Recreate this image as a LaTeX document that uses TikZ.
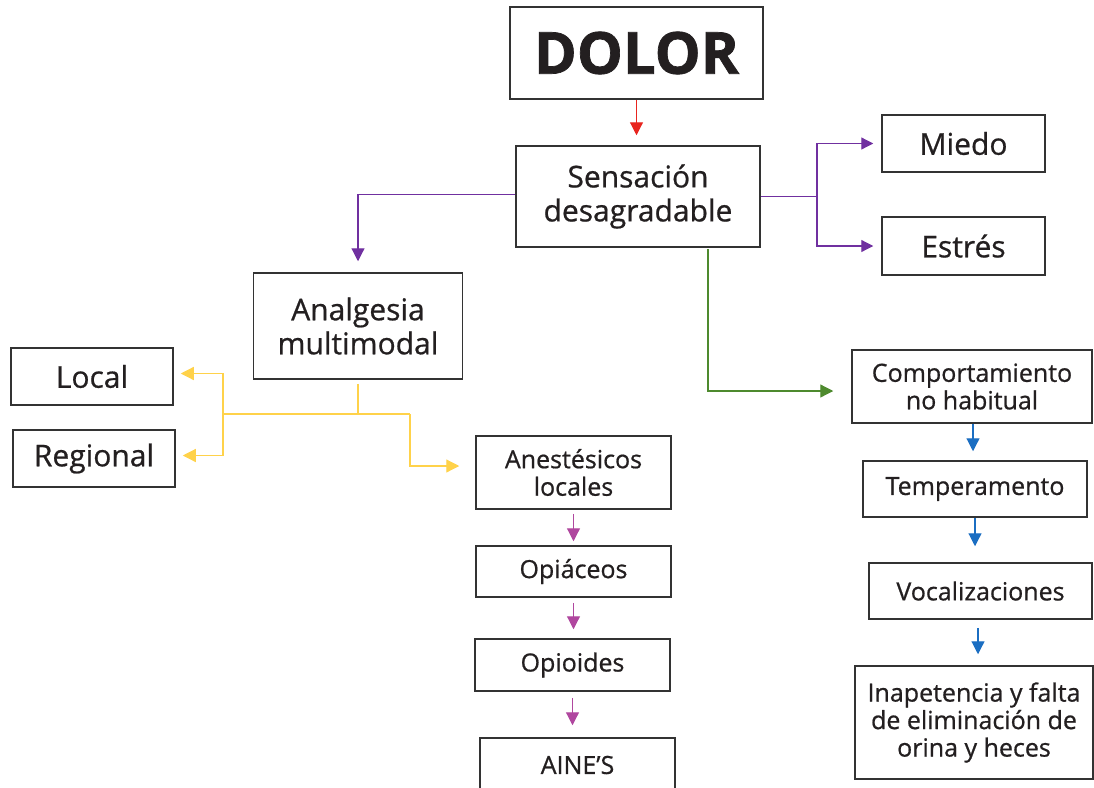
\documentclass[tikz,border=0pt]{standalone}
\usepackage{fontspec}
\setmainfont{Open Sans}[UprightFeatures={RawFeature={embolden=0.7}},BoldFeatures={RawFeature={embolden=1.2}}]
\usetikzlibrary{arrows.meta}
\definecolor{txt}{HTML}{231F20}
\definecolor{boxc}{HTML}{333333}
\definecolor{cred}{HTML}{E8251F}
\definecolor{cpur}{HTML}{7030A0}
\definecolor{cgrn}{HTML}{4E8A2E}
\definecolor{cyel}{HTML}{FFD24A}
\definecolor{cmag}{HTML}{B0479F}
\definecolor{cblu}{HTML}{1B6EC2}
\tikzset{
  box/.style={draw=boxc, line width=1.5pt, fill=white, text=txt, align=center, inner sep=0pt},
  fa/.style={font=\fontsize{25}{27.5}\selectfont},
  fb/.style={font=\fontsize{30}{34}\selectfont},
  conn/.style={line width=1.2pt, -{Triangle[length=13pt,width=13pt]}},
  plain/.style={line width=1.2pt},
}
\begin{document}
\begin{tikzpicture}[x=1pt,y=-1pt]
\clip (0,0) rectangle (1094,787);
\fill[white] (0,0) rectangle (1094,787);
% nodes
\node[box, minimum width=253pt, minimum height=92pt, font=\fontsize{58}{58}\selectfont\bfseries] (dolor) at (636.5,53) {DOLOR};
\node[box, fb, minimum width=244pt, minimum height=101pt] (sens) at (638,196.5) {Sensación\\desagradable};
\node[box, fb, minimum width=163pt, minimum height=57pt] (miedo) at (963.5,143.5) {Miedo};
\node[box, fb, minimum width=163pt, minimum height=58pt] (estres) at (963.5,246) {Estrés};
\node[box, fb, minimum width=209pt, minimum height=106pt] (anal) at (358,326) {Analgesia\\multimodal};
\node[box, fb, minimum width=162pt, minimum height=57pt] (local) at (92,376.5) {Local};
\node[box, fb, minimum width=162pt, minimum height=57pt] (regional) at (94,458.5) {Regional};
\node[box, fa, minimum width=195pt, minimum height=73pt] (anest) at (573.5,472.5) {Anestésicos\\locales};
\node[box, fa, minimum width=195pt, minimum height=51pt] (opiac) at (573.5,571.5) {Opiáceos};
\node[box, fa, minimum width=195pt, minimum height=52pt] (opioid) at (572.5,665) {Opioides};
\node[box, fa, minimum width=195pt, minimum height=54pt] (aines) at (577.5,765) {AINE’S};
\node[box, fa, minimum width=240pt, minimum height=73pt] (comp) at (972,386.5) {Comportamiento\\no habitual};
\node[box, fa, minimum width=224pt, minimum height=56pt] (temp) at (975,489) {Temperamento};
\node[box, fa, minimum width=223pt, minimum height=56pt] (vocal) at (980.5,591) {Vocalizaciones};
\node[box, fa, minimum width=238pt, minimum height=113pt] (inap) at (974,722.5) {Inapetencia y falta\\de eliminación de\\orina y heces};
% red
\draw[conn, cred, shorten >=10pt] (dolor.south) -- (dolor.south |- sens.north);
% purple
\draw[conn, cpur, shorten >=11pt] ([yshift=2pt]sens.west) -| (anal.north);
\coordinate (pj) at (817,196.5);
\draw[plain, cpur] (sens.east) -- (pj);
\draw[conn, cpur, shorten >=8pt, -{Triangle[length=12pt,width=12pt]}] (pj) |- (miedo.west);
\draw[conn, cpur, shorten >=8pt, -{Triangle[length=12pt,width=12pt]}] (pj) |- (estres.west);
% green
\coordinate (gs) at (708,249);
\draw[conn, cgrn, shorten >=18pt] (gs) |- ([yshift=-4.5pt]comp.west);
% yellow
\coordinate (yj) at (358,414);
\coordinate (yl) at (223,414);
\coordinate (yr) at (410,414);
\draw[plain, cyel] ([yshift=-4pt]anal.south) -- (yj);
\draw[plain, cyel] (yl) -- (yr);
\draw[conn, cyel, shorten >=7pt] (yl) |- ([yshift=3pt]local.east);
\draw[conn, cyel, shorten >=7pt] (yl) |- ([yshift=3pt]regional.east);
\draw[conn, cyel, shorten >=16pt] (yr) |- ([yshift=6.5pt]anest.west);
% magenta
\draw[conn, cmag, shorten <=4pt, shorten >=4pt] (anest.south) -- (anest.south |- opiac.north);
\draw[conn, cmag, shorten <=5pt, shorten >=9pt] (opiac.south) -- (opiac.south |- opioid.north);
\draw[conn, cmag, shorten <=6pt, shorten >=12pt] (opioid.south) -- (opioid.south |- aines.north);
% blue
\draw[conn, cblu, shorten >=9pt] ([xshift=1pt]comp.south) -- ([xshift=1pt]comp.south |- temp.north);
\draw[conn, cblu, shorten >=16pt] (temp.south) -- (temp.south |- vocal.north);
\draw[conn, cblu, shorten <=8pt, shorten >=11pt] ([xshift=-2.5pt]vocal.south) -- ([xshift=-2.5pt]vocal.south |- inap.north);
\end{tikzpicture}
\end{document}
